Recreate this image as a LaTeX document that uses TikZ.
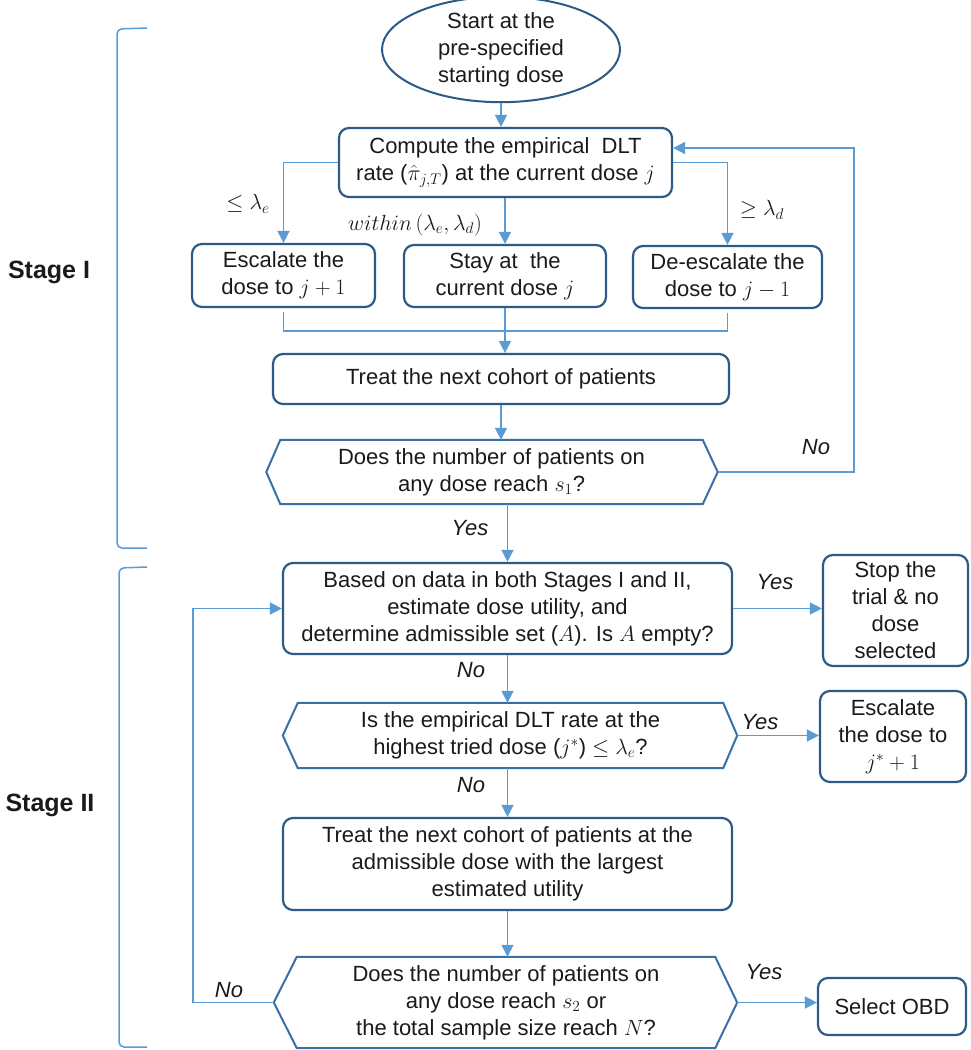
\RequirePackage{fix-cm}
\documentclass[tikz,border=0pt]{standalone}
\usepackage{fontspec}
\setmainfont{Liberation Sans}
\setsansfont{Liberation Sans}
\usetikzlibrary{arrows.meta,shapes.geometric}
\definecolor{cline}{HTML}{5B9BD5}
\definecolor{cbox}{HTML}{2E5A87}
\definecolor{chex}{HTML}{3A6FA6}
\definecolor{ctext}{HTML}{1A1A1A}
\tikzset{
  txt/.style={font=\fontsize{22}{27}\selectfont, text=ctext, align=center, inner sep=0pt},
  box/.style={txt, draw=cbox, line width=2.2pt, rounded corners=10pt},
  hexnode/.style={txt},
  hexline/.style={draw=chex, line width=2pt, line join=miter},
  link/.style={draw=cline, line width=1.5pt},
  arr/.style={link, -{Triangle[length=12pt,width=12pt]}},
  lab/.style={font=\fontsize{22}{26}\selectfont\itshape, text=ctext, inner sep=0pt},
  stagelab/.style={font=\fontsize{25}{30}\selectfont\bfseries, text=ctext, inner sep=0pt},
}
\begin{document}
\begin{tikzpicture}[x=1pt,y=-1pt]
\useasboundingbox (0,0) rectangle (970,1050);

% ---------- Stage brackets ----------
\draw[link, rounded corners=5pt] (147,28) -- (117,29) -- (117,548) -- (147,548);
\draw[link, rounded corners=5pt] (147,567) -- (119,568) -- (119,1047) -- (147,1047);
\node[stagelab] (s1) at (49,272) {Stage I};
\node[stagelab] (s2) at (50,805) {Stage II};

% ---------- Stage I nodes ----------
\node[txt, ellipse, draw=cbox, line width=2pt, minimum width=238pt, minimum height=95pt] (start) at (501,49.5)
  {Start at the\\pre-specified\\starting dose};
\node[box, minimum width=333pt, minimum height=69pt] (compute) at (505.5,162.5)
  {Compute the empirical~ DLT\\rate ($\hat{\pi}_{j,T}$) at the current dose $j$};
\node[box, minimum width=183pt, minimum height=63pt] (esc) at (283.5,275.5)
  {Escalate the\\dose to $j+1$};
\node[box, minimum width=202pt, minimum height=62pt] (stay) at (505,276)
  {Stay at~ the\\current dose $j$};
\node[box, minimum width=189pt, minimum height=62pt] (deesc) at (727.5,277)
  {De-escalate the\\dose to $j-1$};
\node[box, minimum width=456pt, minimum height=50pt] (treat1) at (501,379)
  {Treat the next cohort of patients};
\node[hexnode, minimum width=422pt, minimum height=64pt] (dec1) at (491.5,472)
  {Does the number of patients on\\any dose reach $s_1$?};
\coordinate (dec1R) at ([xshift=15pt]dec1.east);
\coordinate (dec1L) at ([xshift=-14pt]dec1.west);
\draw[hexline] (dec1.north west) -- (dec1.north east) -- (dec1R) -- (dec1.south east)
  -- (dec1.south west) -- (dec1L) -- cycle;

% ---------- Stage II nodes ----------
\node[box, minimum width=449pt, minimum height=91pt] (based) at (507.5,608.5)
  {Based on data in both Stages I and II,\\estimate dose utility, and\\determine admissible set ($A$). Is $A$ empty?};
\node[box, minimum width=145pt, minimum height=111pt] (stop) at (895.5,610.5)
  {Stop the\\trial \& no\\dose\\selected};
\node[hexnode, minimum width=425pt, minimum height=65pt] (dec2) at (510.5,735.5)
  {Is the empirical DLT rate at the\\highest tried dose ($j^{*}$) $\leq \lambda_e$?};
\coordinate (dec2R) at ([xshift=14pt]dec2.east);
\coordinate (dec2L) at ([xshift=-15pt]dec2.west);
\draw[hexline] (dec2.north west) -- (dec2.north east) -- (dec2R) -- (dec2.south east)
  -- (dec2.south west) -- (dec2L) -- cycle;
\node[box, minimum width=146pt, minimum height=91pt] (esc2) at (893,736.5)
  {Escalate\\the dose to\\$j^{*}+1$};
\node[box, minimum width=449pt, minimum height=92pt] (treat2) at (507.5,864)
  {Treat the next cohort of patients at the\\admissible dose with the largest\\estimated utility};
\node[hexnode, minimum width=418pt, minimum height=91pt] (dec3) at (506,1002.5)
  {Does the number of patients on\\any dose reach $s_2$ or\\the total sample size reach $N$?};
\coordinate (dec3R) at ([xshift=22pt]dec3.east);
\coordinate (dec3L) at ([xshift=-23pt]dec3.west);
\draw[hexline] (dec3.north west) -- (dec3.north east) -- (dec3R) -- (dec3.south east)
  -- (dec3.south west) -- (dec3L) -- cycle;
\node[box, minimum width=148pt, minimum height=57pt] (obd) at (892,1006.5)
  {Select OBD};

% ---------- Stage I connectors ----------
\draw[arr] (start.south) -- (start.south |- compute.north);
\draw[arr] (compute.west) -| (esc.north);
\draw[arr] (stay.north |- compute.south) -- (stay.north);
\draw[arr] (compute.east) -| (deesc.north);
\coordinate (merge) at (505,331);
\draw[link] ([yshift=-4pt]esc.south) |- (merge);
\draw[link] ([yshift=-4pt]deesc.south) |- (merge);
\draw[link] (stay.south) -- (merge);
\draw[arr] (merge) -- (merge |- treat1.north);
\draw[arr] (treat1.south) -- (treat1.south |- dec1.north);
\coordinate (loopA) at (854,472);
\draw[arr] (dec1R) -- (loopA) |- ([yshift=14.5pt]compute.east);
\draw[arr] (based.north |- dec1.south) -- (based.north);

\node[lab] (l1) at (248,204) {$\leq \lambda_e$};
\node[lab] (l2) at (415,225) {$within\,(\lambda_e,\lambda_d)$};
\node[lab] (l3) at (762,210) {$\geq \lambda_d$};
\node[lab] (l4) at (816,447) {No};
\node[lab] (l5) at (470,528) {Yes};

% ---------- Stage II connectors ----------
\draw[arr] (based.east) -- (based.east -| stop.west);
\draw[arr] (based.south) -- (based.south |- dec2.north);
\draw[arr] (dec2R) -- (dec2R -| esc2.west);
\draw[arr] (treat2.north |- dec2.south) -- (treat2.north);
\draw[arr] (treat2.south) -- (treat2.south |- dec3.north);
\draw[arr] (dec3R) -- (dec3R -| obd.west);
\coordinate (loopB) at (193,1002.5);
\draw[arr] (dec3L) -- (loopB) |- (based.west);

\node[lab] (l6) at (775,582) {Yes};
\node[lab] (l7) at (471,670) {No};
\node[lab] (l8) at (760,722) {Yes};
\node[lab] (l9) at (471,785) {No};
\node[lab] (l10) at (764,972) {Yes};
\node[lab] (l11) at (229,990) {No};
\end{tikzpicture}
\end{document}
